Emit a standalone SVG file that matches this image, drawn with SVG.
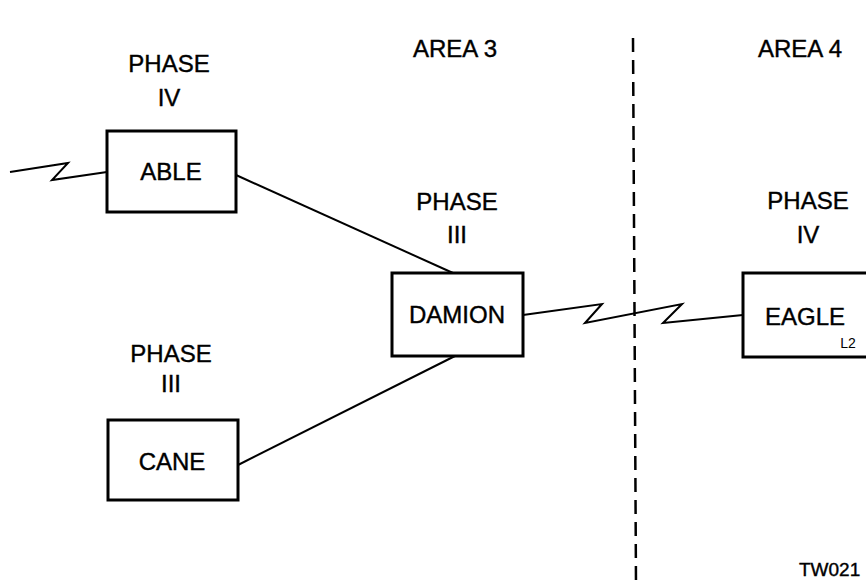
<svg xmlns="http://www.w3.org/2000/svg" width="866" height="581" viewBox="0 0 866 581">
<style>
.box{fill:#fff;stroke:#000;stroke-width:3}
.ln{fill:none;stroke:#000;stroke-width:2;stroke-linejoin:miter}
.t{font-family:"Liberation Sans",Arial,sans-serif;font-size:24px;fill:#000;stroke:#000;stroke-width:0.4;text-anchor:middle}
.s{font-family:"Liberation Sans",Arial,sans-serif;font-size:14px;fill:#000;text-anchor:middle}
.dash{stroke:#000;stroke-width:2.5;stroke-dasharray:14 8;fill:none}
</style>
<rect width="866" height="581" fill="#fff"/>
<g id="labels">
<text class="t" x="455" y="57">AREA 3</text>
<text class="t" x="800" y="57">AREA 4</text>
<text class="t" x="169" y="72">PHASE</text>
<text class="t" x="169" y="106">IV</text>
<text class="t" x="457" y="210">PHASE</text>
<text class="t" x="457" y="243">III</text>
<text class="t" x="808" y="209">PHASE</text>
<text class="t" x="808" y="243">IV</text>
<text class="t" x="171" y="362">PHASE</text>
<text class="t" x="171" y="392">III</text>
<text class="t" x="799" y="576" style="text-anchor:start;font-size:19px">TW021</text>
</g>
<g id="connectors">
<line class="dash" x1="633" y1="38" x2="636" y2="585"/>
<polyline class="ln" points="10,172 68,163 52,180 107,172"/>
<line class="ln" x1="236" y1="175" x2="453" y2="273"/>
<line class="ln" x1="238" y1="465" x2="455" y2="356"/>
<polyline class="ln" points="523,315 602,304 585,323 682,304 663,323 743,315"/>
</g>
<g id="able">
<rect class="box" x="107" y="131" width="129" height="81"/>
<text class="t" x="171" y="180">ABLE</text>
</g>
<g id="cane">
<rect class="box" x="108" y="420" width="130" height="80"/>
<text class="t" x="172" y="470">CANE</text>
</g>
<g id="damion">
<rect class="box" x="392" y="273" width="131" height="83"/>
<text class="t" x="457" y="323">DAMION</text>
</g>
<g id="eagle">
<rect class="box" x="743" y="273" width="140" height="84"/>
<text class="t" x="805" y="325">EAGLE</text>
<text class="s" x="848" y="348">L2</text>
</g>
</svg>
